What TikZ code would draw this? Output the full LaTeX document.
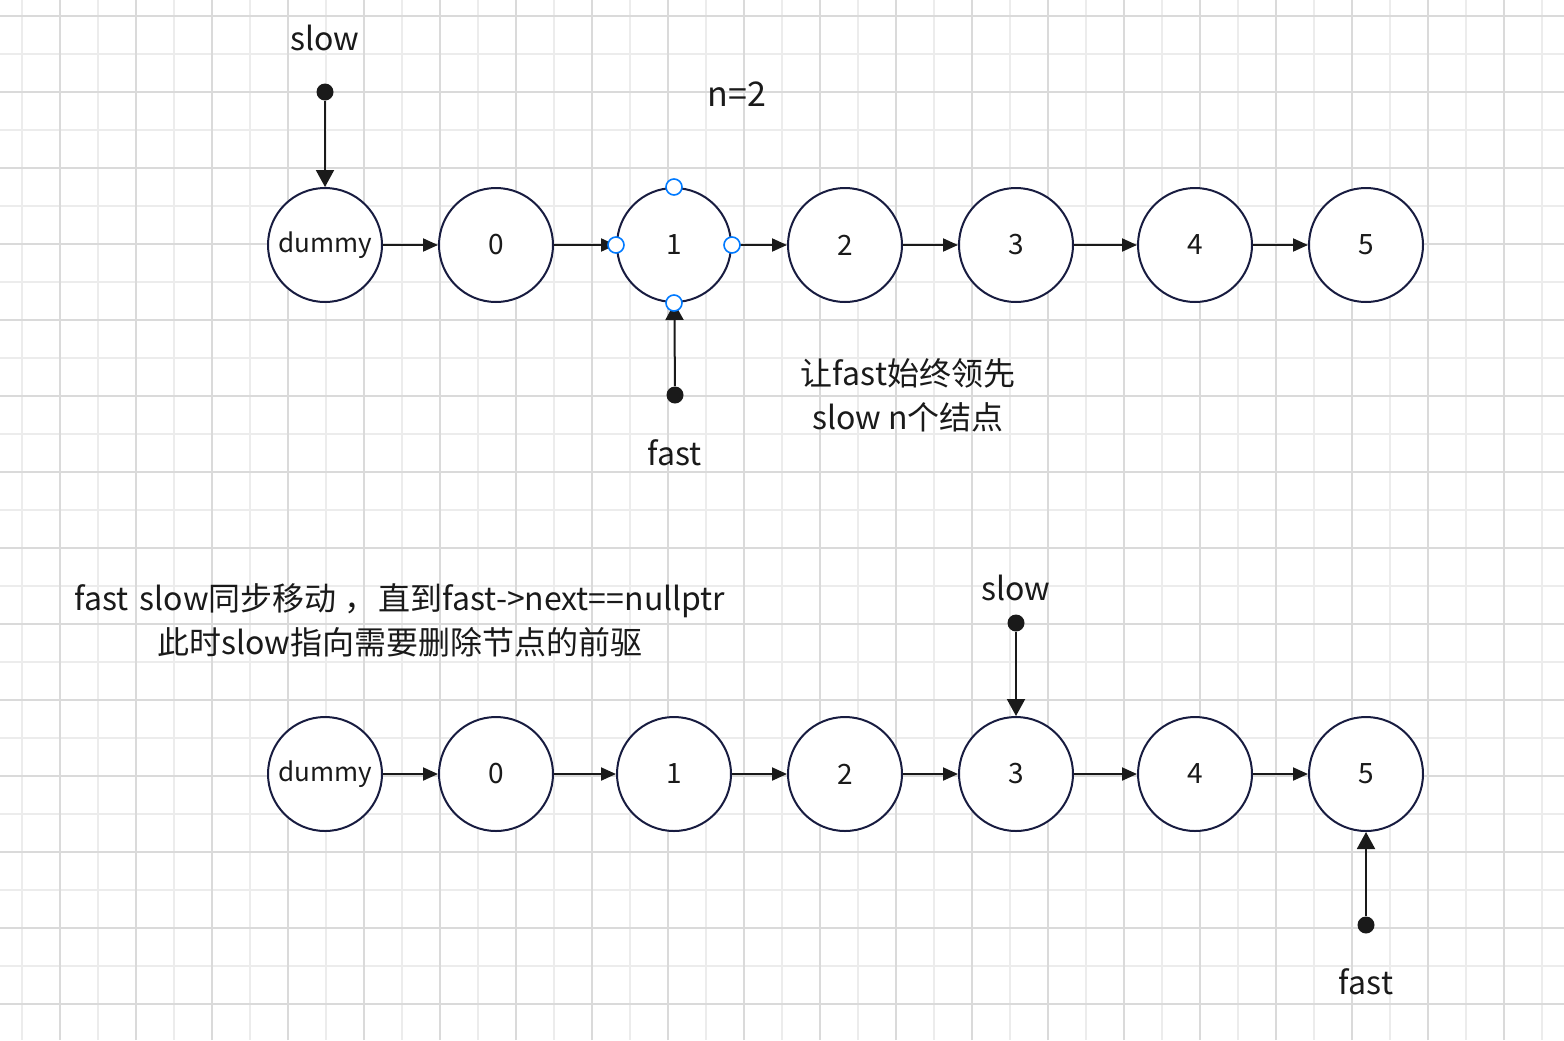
\documentclass[tikz,border=0pt]{standalone}
\usepackage{fontspec}
\setmainfont{Noto Sans CJK SC}
\usetikzlibrary{arrows.meta}
\definecolor{nodeline}{RGB}{24,28,64}
\definecolor{inkblack}{RGB}{26,26,26}
\definecolor{handleblue}{RGB}{0,122,255}
\definecolor{gridmajor}{RGB}{218,218,218}
\definecolor{gridminor}{RGB}{236,236,236}
\tikzset{>={Triangle[width=6.5pt,length=7.5pt]}}
\tikzset{
  listnode/.style={circle, draw=nodeline, line width=1pt, fill=white,
    minimum size=57pt, inner sep=0pt, text=inkblack,
    font=\fontsize{14pt}{16pt}\selectfont},
  ptrdot/.style={circle, fill=inkblack, inner sep=0pt, minimum size=8.5pt},
  ptr/.style={->, line width=1pt, draw=inkblack},
  bigptr/.style={-{Triangle[width=9pt,length=8.5pt]}, line width=1pt, draw=inkblack},
  lbl/.style={font=\fontsize{16pt}{22pt}\selectfont, text=inkblack,
    inner sep=0pt, align=center},
  handle/.style={circle, draw=handleblue, line width=0.8pt, fill=white,
    inner sep=0pt, minimum size=8pt},
}

\begin{document}
\begin{tikzpicture}

  %% background and grid
  \useasboundingbox (0pt,0pt) rectangle (782pt,-520pt);
  \fill[white] (0pt,0pt) rectangle (782pt,-520pt);
  \begin{scope}[shift={(11pt,-8pt)}]
    \draw[gridminor, line width=1pt] (-11pt,8pt) grid[step=19pt] (771pt,-512pt);
  \end{scope}
  \begin{scope}[shift={(30pt,-8pt)}]
    \draw[gridmajor, line width=1pt] (-30pt,8pt) grid[step=38pt] (752pt,-512pt);
  \end{scope}

  %% first list: fast ahead by n
  \node[listnode, font=\fontsize{13pt}{15pt}\selectfont] (ad) at (162.5pt,-122.5pt) {dummy};
  \node[listnode] (a0) at (248pt,-122.5pt) {0};
  \node[listnode] (a1) at (337pt,-122.5pt) {1};
  \node[listnode] (a2) at (422.5pt,-122.5pt) {2};
  \node[listnode] (a3) at (508pt,-122.5pt) {3};
  \node[listnode] (a4) at (597.5pt,-122.5pt) {4};
  \node[listnode] (a5) at (683pt,-122.5pt) {5};
  \draw[ptr] (ad) -- (a0);
  \draw[ptr] (a0) -- (a1);
  \draw[ptr] (a1) -- (a2);
  \draw[ptr] (a2) -- (a3);
  \draw[ptr] (a3) -- (a4);
  \draw[ptr] (a4) -- (a5);

  %% pointers
  \node[lbl] (aslowtxt) at (162.5pt,-19pt) {slow};
  \node[ptrdot] (aslow) at (162.5pt,-46pt) {};
  \draw[bigptr] (aslow) -- (ad);
  \node[ptrdot] (afast) at (337.5pt,-197.5pt) {};
  \draw[bigptr] (afast) -- (a1);
  \node[lbl] (afasttxt) at (337.5pt,-226.5pt) {fast};

  %% selection handles
  \node[handle] at (a1.north) {};
  \node[handle] at (a1.west) {};
  \node[handle] at (a1.east) {};
  \node[handle] at (a1.south) {};

  %% notes
  \node[lbl, font=\fontsize{17pt}{22pt}\selectfont] (ntxt) at (368.5pt,-47pt) {n=2};
  \node[lbl] (anote) at (454pt,-197.5pt) {让fast始终领先\\slow n个结点};

  %% second list: move together
  \node[listnode, font=\fontsize{13pt}{15pt}\selectfont] (bd) at (162.5pt,-387pt) {dummy};
  \node[listnode] (b0) at (248pt,-387pt) {0};
  \node[listnode] (b1) at (337pt,-387pt) {1};
  \node[listnode] (b2) at (422.5pt,-387pt) {2};
  \node[listnode] (b3) at (508pt,-387pt) {3};
  \node[listnode] (b4) at (597.5pt,-387pt) {4};
  \node[listnode] (b5) at (683pt,-387pt) {5};
  \draw[ptr] (bd) -- (b0);
  \draw[ptr] (b0) -- (b1);
  \draw[ptr] (b1) -- (b2);
  \draw[ptr] (b2) -- (b3);
  \draw[ptr] (b3) -- (b4);
  \draw[ptr] (b4) -- (b5);

  \node[lbl] (bslowtxt) at (508pt,-294pt) {slow};
  \node[ptrdot] (bslow) at (508pt,-311.5pt) {};
  \draw[bigptr] (bslow) -- (b3);
  \node[ptrdot] (bfast) at (683pt,-462.5pt) {};
  \draw[bigptr] (bfast) -- (b5);
  \node[lbl] (bfasttxt) at (683pt,-491pt) {fast};

  \node[lbl] (bnote) at (200pt,-310pt)
  {fast\hspace{2pt} slow同步移动\hspace{4pt}，\hspace{1pt}直到fast->next==nullptr\\此时slow指向需要删除节点的前驱};

\end{tikzpicture}
\end{document}
